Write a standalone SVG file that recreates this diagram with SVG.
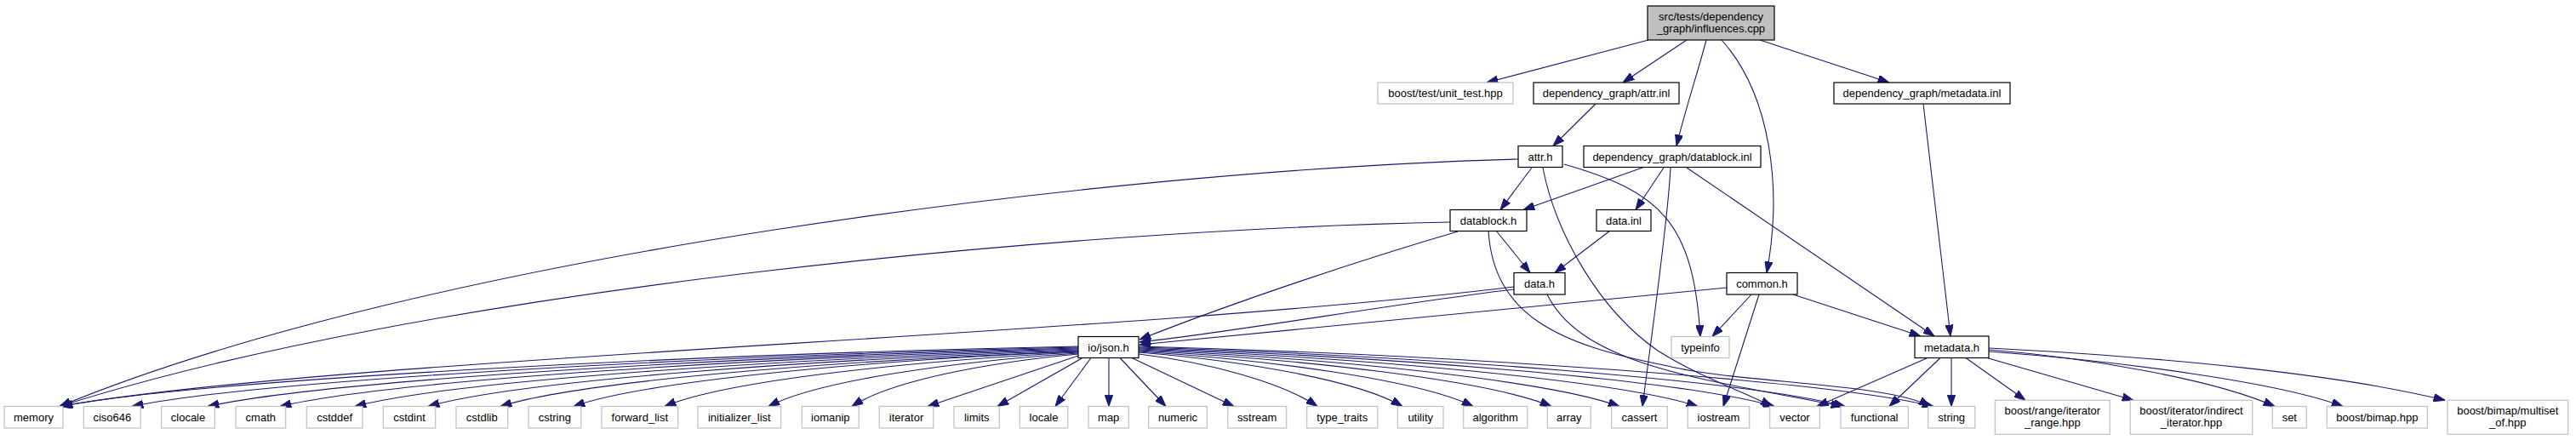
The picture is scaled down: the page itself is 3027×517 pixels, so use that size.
<svg xmlns="http://www.w3.org/2000/svg" width="3027" height="517" viewBox="0 0 3027 517">
<style>
text{font-family:"Liberation Sans",Arial,sans-serif;font-size:13px;fill:#000;text-anchor:middle}
.root{fill:#bfbfbf;stroke:#000;stroke-width:1.2}
.int{fill:#fff;stroke:#000;stroke-width:1.2}
.ext{fill:#fff;stroke:#bfbfbf;stroke-width:1.2}
#edges path{fill:none;stroke:#191970;stroke-width:1.1;marker-end:url(#arr)}
</style>
<defs>
<marker id="arr" markerUnits="userSpaceOnUse" viewBox="0 0 13.3 9.4" markerWidth="13.3" markerHeight="9.4" refX="13.3" refY="4.7" orient="auto">
<path d="M0,0 L13.3,4.7 L0,9.4 Z" fill="#191970" stroke="#191970" stroke-width="1"/>
</marker>
</defs>
<rect width="3027" height="517" fill="#fff"/>
<g id="edges">
<path d="M1937,47 L1747,97"/>
<path d="M1982,47 L1907,97"/>
<path d="M2005,47 C1995,85 1980,130 1970,171.5"/>
<path d="M2023,47 C2080,110 2095,220 2076,320.5"/>
<path d="M2068,47 L2220,97"/>
<path d="M1875,122 L1825,171.5"/>
<path d="M2260,122 L2292,395"/>
<path d="M1784,187 C1300,200 500,300 70,477.5"/>
<path d="M1704,261 C1250,270 500,340 70,477.5"/>
<path d="M1779,337 C1300,395 400,420 70,477.5"/>
<path d="M1713,272 C1600,305 1450,355 1339,399"/>
<path d="M1779,340 C1650,355 1450,390 1339,402"/>
<path d="M2029,338 C1800,360 1500,390 1339,405"/>
<path d="M1800,197 L1763,246.5"/>
<path d="M1838,193 C1950,225 1990,260 1998,395.5"/>
<path d="M1813,197 C1828,275 1880,365 1948,412 C2000,445 2050,460 2082,477.5"/>
<path d="M1749,271 C1755,370 1830,405 1960,430 C2040,450 2220,450 2268,477.5"/>
<path d="M1930,197 L1790,246.5"/>
<path d="M1955,197 L1922,246.5"/>
<path d="M1963,197 C1960,260 1940,400 1930,477.5"/>
<path d="M1982,197 L2273,395"/>
<path d="M1758,271 L1798,320.5"/>
<path d="M1892,271 L1827,320.5"/>
<path d="M1818,346 C1860,430 2000,445 2165,477.5"/>
<path d="M2058,346 L2012,395.5"/>
<path d="M2067,346 L2025,477.5"/>
<path d="M2107,346 L2257,395"/>
<path d="M2265,420.5 L2135,477.5"/>
<path d="M2280,420.5 L2220,477.5"/>
<path d="M2293,420.5 L2293,477.5"/>
<path d="M2310,420.5 L2380,470.3"/>
<path d="M2335,420.5 L2507,470.3"/>
<path d="M2337,411 C2450,420 2600,445 2673,477.5"/>
<path d="M2337,413 C2500,425 2680,450 2753,477.5"/>
<path d="M2337,409 C2550,420 2750,440 2873,470.3"/>
<path d="M1267,407 C789,417 230,447 72,477.5"/>
<path d="M1267,408 C822,418 303,447 155,477.5"/>
<path d="M1267,409 C858,419 382,447 244,477.5"/>
<path d="M1267,410 C892,420 457,447 329,477.5"/>
<path d="M1267,411 C927,421 534,447 417,477.5"/>
<path d="M1267,412 C961,422 610,447 503,477.5"/>
<path d="M1267,413 C995,423 684,447 588,477.5"/>
<path d="M1267,413 C1030,423 760,447 674,477.5"/>
<path d="M1267,414 C1073,424 854,447 781,477.5"/>
<path d="M1267,415 C1121,425 962,447 903,477.5"/>
<path d="M1267,416 C1161,426 1048,447 1001,477.5"/>
<path d="M1267,418 L1090,477.5"/>
<path d="M1272,420.5 L1172,477.5"/>
<path d="M1282,420.5 L1240,477.5"/>
<path d="M1303,420.5 L1303,477.5"/>
<path d="M1316,420.5 L1370,477.5"/>
<path d="M1330,420.5 L1450,477.5"/>
<path d="M1338,416 C1422,426 1508,450 1548,477.5"/>
<path d="M1338,414 C1462,424 1596,447 1648,477.5"/>
<path d="M1338,413 C1495,423 1669,447 1731,477.5"/>
<path d="M1338,412 C1532,422 1750,447 1823,477.5"/>
<path d="M1338,411 C1564,421 1820,447 1903,477.5"/>
<path d="M1338,410 C1601,420 1901,447 1995,477.5"/>
<path d="M1338,409 C1637,419 1980,447 2085,477.5"/>
<path d="M1338,408 C1670,418 2053,447 2168,477.5"/>
<path d="M1338,407 C1712,417 2145,447 2272,477.5"/>
</g>
<g id="n_root"><rect class="root" x="1936" y="7" width="149" height="40"/><text x="2010.5" y="23.5">src/tests/dependency</text><text x="2010.5" y="37.5">_graph/influences.cpp</text></g>
<g id="n_unit_test"><rect class="ext" x="1619" y="97" width="159" height="25"/><text x="1698.5" y="114">boost/test/unit_test.hpp</text></g>
<g id="n_attr_inl"><rect class="int" x="1802" y="97" width="171" height="25"/><text x="1887.5" y="114">dependency_graph/attr.inl</text></g>
<g id="n_metadata_inl"><rect class="int" x="2155" y="97" width="207" height="25"/><text x="2258.5" y="114">dependency_graph/metadata.inl</text></g>
<g id="n_attr_h"><rect class="int" x="1784" y="171.5" width="52" height="25"/><text x="1810" y="188.5">attr.h</text></g>
<g id="n_datablock_inl"><rect class="int" x="1861" y="171.5" width="208" height="25"/><text x="1965" y="188.5">dependency_graph/datablock.inl</text></g>
<g id="n_datablock_h"><rect class="int" x="1704" y="246.5" width="90" height="25"/><text x="1749" y="263.5">datablock.h</text></g>
<g id="n_data_inl"><rect class="int" x="1876" y="246.5" width="64" height="25"/><text x="1908" y="263.5">data.inl</text></g>
<g id="n_data_h"><rect class="int" x="1779" y="320.5" width="60" height="25.5"/><text x="1809" y="337.5">data.h</text></g>
<g id="n_common_h"><rect class="int" x="2029" y="320.5" width="83" height="25.5"/><text x="2070.5" y="337.5">common.h</text></g>
<g id="n_json_h"><rect class="int" x="1267" y="395.5" width="71" height="25"/><text x="1302.5" y="412.5">io/json.h</text></g>
<g id="n_metadata_h"><rect class="int" x="2250" y="395" width="87" height="25.5"/><text x="2293.5" y="412.5">metadata.h</text></g>
<g id="n_typeinfo"><rect class="ext" x="1964" y="395.5" width="68" height="25"/><text x="1998" y="412.5">typeinfo</text></g>
<g id="n_memory"><rect class="ext" x="5" y="477.5" width="69" height="25.5"/><text x="39.5" y="494.5">memory</text></g>
<g id="n_ciso646"><rect class="ext" x="98.3" y="477.5" width="67" height="25.5"/><text x="131.8" y="494.5">ciso646</text></g>
<g id="n_clocale"><rect class="ext" x="189.7" y="477.5" width="62.6" height="25.5"/><text x="221" y="494.5">clocale</text></g>
<g id="n_cmath"><rect class="ext" x="277" y="477.5" width="58.7" height="25.5"/><text x="306.3" y="494.5">cmath</text></g>
<g id="n_cstddef"><rect class="ext" x="360.3" y="477.5" width="65.7" height="25.5"/><text x="393.2" y="494.5">cstddef</text></g>
<g id="n_cstdint"><rect class="ext" x="450.3" y="477.5" width="61.4" height="25.5"/><text x="481" y="494.5">cstdint</text></g>
<g id="n_cstdlib"><rect class="ext" x="536" y="477.5" width="60.7" height="25.5"/><text x="566.3" y="494.5">cstdlib</text></g>
<g id="n_cstring"><rect class="ext" x="621" y="477.5" width="61.7" height="25.5"/><text x="651.8" y="494.5">cstring</text></g>
<g id="n_forward_list"><rect class="ext" x="707" y="477.5" width="89.7" height="25.5"/><text x="751.8" y="494.5">forward_list</text></g>
<g id="n_initializer_list"><rect class="ext" x="820" y="477.5" width="97.7" height="25.5"/><text x="868.8" y="494.5">initializer_list</text></g>
<g id="n_iomanip"><rect class="ext" x="942.3" y="477.5" width="67" height="25.5"/><text x="975.8" y="494.5">iomanip</text></g>
<g id="n_iterator"><rect class="ext" x="1033.3" y="477.5" width="63.4" height="25.5"/><text x="1065" y="494.5">iterator</text></g>
<g id="n_limits"><rect class="ext" x="1121" y="477.5" width="53.3" height="25.5"/><text x="1147.7" y="494.5">limits</text></g>
<g id="n_locale"><rect class="ext" x="1198.3" y="477.5" width="56.4" height="25.5"/><text x="1226.5" y="494.5">locale</text></g>
<g id="n_map"><rect class="ext" x="1279" y="477.5" width="47.3" height="25.5"/><text x="1302.7" y="494.5">map</text></g>
<g id="n_numeric"><rect class="ext" x="1349.7" y="477.5" width="68.6" height="25.5"/><text x="1384" y="494.5">numeric</text></g>
<g id="n_sstream"><rect class="ext" x="1442.7" y="477.5" width="69" height="25.5"/><text x="1477.2" y="494.5">sstream</text></g>
<g id="n_type_traits"><rect class="ext" x="1535.7" y="477.5" width="83" height="25.5"/><text x="1577.2" y="494.5">type_traits</text></g>
<g id="n_utility"><rect class="ext" x="1642.3" y="477.5" width="53.7" height="25.5"/><text x="1669.2" y="494.5">utility</text></g>
<g id="n_algorithm"><rect class="ext" x="1719.7" y="477.5" width="75" height="25.5"/><text x="1757.2" y="494.5">algorithm</text></g>
<g id="n_array"><rect class="ext" x="1818.3" y="477.5" width="51" height="25.5"/><text x="1843.8" y="494.5">array</text></g>
<g id="n_cassert"><rect class="ext" x="1893.7" y="477.5" width="65.6" height="25.5"/><text x="1926.5" y="494.5">cassert</text></g>
<g id="n_iostream"><rect class="ext" x="1983.3" y="477.5" width="72.4" height="25.5"/><text x="2019.5" y="494.5">iostream</text></g>
<g id="n_vector"><rect class="ext" x="2079.7" y="477.5" width="58.6" height="25.5"/><text x="2109" y="494.5">vector</text></g>
<g id="n_functional"><rect class="ext" x="2163" y="477.5" width="79.3" height="25.5"/><text x="2202.7" y="494.5">functional</text></g>
<g id="n_string"><rect class="ext" x="2265.7" y="477.5" width="55" height="25.5"/><text x="2293.2" y="494.5">string</text></g>
<g id="n_range"><rect class="ext" x="2344.3" y="470.3" width="135" height="40"/><text x="2411.8" y="487">boost/range/iterator</text><text x="2411.8" y="501">_range.hpp</text></g>
<g id="n_indirect"><rect class="ext" x="2503.3" y="470.3" width="143.4" height="40"/><text x="2575" y="487">boost/iterator/indirect</text><text x="2575" y="501">_iterator.hpp</text></g>
<g id="n_set"><rect class="ext" x="2670.3" y="477.5" width="40" height="25.5"/><text x="2690.3" y="494.5">set</text></g>
<g id="n_bimap"><rect class="ext" x="2734.3" y="477.5" width="118" height="25.5"/><text x="2793.3" y="494.5">boost/bimap.hpp</text></g>
<g id="n_multiset"><rect class="ext" x="2876" y="470.3" width="141.7" height="40"/><text x="2946.8" y="487">boost/bimap/multiset</text><text x="2946.8" y="501">_of.hpp</text></g>
</svg>
